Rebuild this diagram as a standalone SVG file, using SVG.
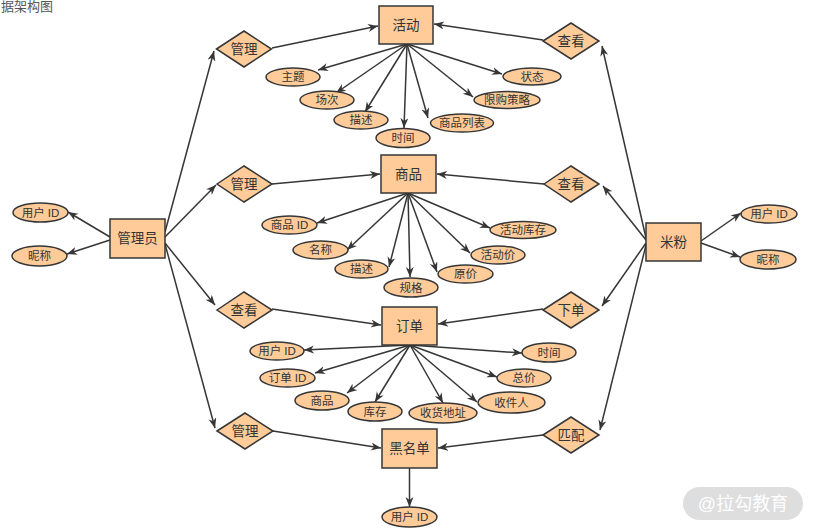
<svg xmlns="http://www.w3.org/2000/svg" width="820" height="532" viewBox="0 0 820 532">
<style>
  .n { fill: #ffcc99; stroke: #363636; stroke-width: 1.5; }
  .t { font-family: "Liberation Sans", "Noto Sans CJK SC", sans-serif; fill: #333; text-anchor: middle; dominant-baseline: central; }
  .e { font-size: 11.5px; }
  .b { font-size: 13.5px; }
  .c line { stroke: #363636; stroke-width: 1.5; marker-end: url(#arr); }
</style>
<defs>
  <marker id="arr" markerUnits="userSpaceOnUse" markerWidth="11" markerHeight="9" refX="10" refY="4" orient="auto">
    <path d="M0,0 L10,4 L0,8 L3,4 z" fill="#363636"/>
  </marker>
</defs>
<rect width="820" height="532" fill="#ffffff"/>
<text x="1" y="6" font-family="Liberation Sans, Noto Sans CJK SC, sans-serif" font-size="13" fill="#555" dominant-baseline="central">据架构图</text>

<g id="connectors" class="c">
  <!-- activity attributes -->
  <line x1="407" y1="44" x2="318" y2="70"/>
  <line x1="407" y1="44" x2="336" y2="93"/>
  <line x1="407" y1="44" x2="365" y2="112"/>
  <line x1="407" y1="44" x2="404" y2="128"/>
  <line x1="407" y1="44" x2="428" y2="118"/>
  <line x1="407" y1="44" x2="473" y2="97"/>
  <line x1="407" y1="44" x2="502" y2="74"/>
  <!-- product attributes -->
  <line x1="408" y1="193" x2="317" y2="223"/>
  <line x1="408" y1="193" x2="347" y2="250"/>
  <line x1="408" y1="193" x2="389" y2="267"/>
  <line x1="408" y1="193" x2="410" y2="277"/>
  <line x1="408" y1="193" x2="437" y2="272"/>
  <line x1="408" y1="193" x2="470" y2="253"/>
  <line x1="408" y1="193" x2="490" y2="228"/>
  <!-- order attributes -->
  <line x1="410" y1="345" x2="304" y2="350"/>
  <line x1="410" y1="345" x2="315" y2="373"/>
  <line x1="410" y1="345" x2="347" y2="393"/>
  <line x1="410" y1="345" x2="375" y2="402"/>
  <line x1="410" y1="345" x2="443" y2="403"/>
  <line x1="410" y1="345" x2="477" y2="402"/>
  <line x1="410" y1="345" x2="497" y2="377"/>
  <line x1="410" y1="345" x2="522" y2="353"/>
  <!-- blacklist attribute -->
  <line x1="409.5" y1="468" x2="409.5" y2="507"/>
  <!-- relations to entities -->
  <line x1="272" y1="48" x2="378" y2="26"/>
  <line x1="543" y1="40" x2="434" y2="24"/>
  <line x1="272" y1="184" x2="380" y2="174"/>
  <line x1="544" y1="184" x2="437" y2="174"/>
  <line x1="272" y1="309" x2="381" y2="325"/>
  <line x1="543" y1="309" x2="438" y2="324"/>
  <line x1="273" y1="431" x2="381" y2="448"/>
  <line x1="543" y1="435" x2="438" y2="448"/>
  <!-- admin -->
  <line x1="110" y1="237" x2="68" y2="212"/>
  <line x1="110" y1="240" x2="67" y2="254"/>
  <line x1="165" y1="232" x2="214" y2="51"/>
  <line x1="165" y1="237" x2="216" y2="185"/>
  <line x1="165" y1="243" x2="215" y2="305"/>
  <line x1="165" y1="244" x2="215" y2="428"/>
  <!-- fan -->
  <line x1="701" y1="241" x2="741" y2="213"/>
  <line x1="701" y1="243" x2="740" y2="257"/>
  <line x1="646" y1="238" x2="602" y2="46"/>
  <line x1="646" y1="240" x2="603" y2="186"/>
  <line x1="646" y1="243" x2="602" y2="306"/>
  <line x1="646" y1="245" x2="600" y2="430"/>
</g>

<!-- entities -->
<g id="activity"><rect class="n" x="379" y="6" width="54" height="38"/><text class="t b" x="406" y="25">活动</text></g>
<g id="product"><rect class="n" x="381" y="155" width="55" height="38"/><text class="t b" x="408.5" y="174">商品</text></g>
<g id="order"><rect class="n" x="382" y="307" width="55" height="38"/><text class="t b" x="409.5" y="326">订单</text></g>
<g id="blacklist"><rect class="n" x="382" y="429" width="55" height="39"/><text class="t b" x="409.5" y="448.5">黑名单</text></g>
<g id="admin"><rect class="n" x="110" y="219" width="55" height="39"/><text class="t b" x="137.5" y="238.5">管理员</text></g>
<g id="fan"><rect class="n" x="646" y="223" width="55" height="38"/><text class="t b" x="673.5" y="242">米粉</text></g>

<!-- relations -->
<g id="rel-act-manage"><polygon class="n" points="216.5,49 244,31 271.5,49 244,67"/><text class="t b" x="244" y="49">管理</text></g>
<g id="rel-act-view"><polygon class="n" points="543,41 571,23 599,41 571,59"/><text class="t b" x="571" y="41">查看</text></g>
<g id="rel-prod-manage"><polygon class="n" points="217,184 244,166 272,184 244,202"/><text class="t b" x="244" y="184">管理</text></g>
<g id="rel-prod-view"><polygon class="n" points="544,184 571,166 599,184 571,202"/><text class="t b" x="571" y="184">查看</text></g>
<g id="rel-order-view"><polygon class="n" points="217,310 244,292 272,310 244,328"/><text class="t b" x="244" y="310">查看</text></g>
<g id="rel-order-place"><polygon class="n" points="543,310 571,292 599,310 571,328"/><text class="t b" x="571" y="310">下单</text></g>
<g id="rel-bl-manage"><polygon class="n" points="217,431 245,413 273,431 245,449"/><text class="t b" x="245" y="431">管理</text></g>
<g id="rel-bl-match"><polygon class="n" points="543,435 571,417 599,435 571,453"/><text class="t b" x="571" y="435">匹配</text></g>

<!-- activity attributes -->
<g id="a-theme"><ellipse class="n" cx="293" cy="77" rx="27" ry="9"/><text class="t e" x="293" y="77">主题</text></g>
<g id="a-session"><ellipse class="n" cx="327" cy="100" rx="27" ry="9"/><text class="t e" x="327" y="100">场次</text></g>
<g id="a-desc"><ellipse class="n" cx="361" cy="120" rx="27" ry="9"/><text class="t e" x="361" y="120">描述</text></g>
<g id="a-time"><ellipse class="n" cx="403" cy="138" rx="27" ry="9.5"/><text class="t e" x="403" y="138">时间</text></g>
<g id="a-goods"><ellipse class="n" cx="462" cy="123" rx="31.5" ry="9"/><text class="t e" x="462" y="123">商品列表</text></g>
<g id="a-limit"><ellipse class="n" cx="507" cy="100" rx="33" ry="8.5"/><text class="t e" x="507" y="100">限购策略</text></g>
<g id="a-state"><ellipse class="n" cx="532" cy="76.5" rx="29" ry="8.5"/><text class="t e" x="532" y="76.5">状态</text></g>

<!-- product attributes -->
<g id="p-id"><ellipse class="n" cx="289.5" cy="225" rx="27.5" ry="9"/><text class="t e" x="289.5" y="225">商品 ID</text></g>
<g id="p-name"><ellipse class="n" cx="320.5" cy="250" rx="27.5" ry="9"/><text class="t e" x="320.5" y="250">名称</text></g>
<g id="p-desc"><ellipse class="n" cx="361.5" cy="269" rx="26.5" ry="9"/><text class="t e" x="361.5" y="269">描述</text></g>
<g id="p-spec"><ellipse class="n" cx="411" cy="287.5" rx="27" ry="9.5"/><text class="t e" x="411" y="287.5">规格</text></g>
<g id="p-price"><ellipse class="n" cx="465.5" cy="274" rx="27.5" ry="9"/><text class="t e" x="465.5" y="274">原价</text></g>
<g id="p-aprice"><ellipse class="n" cx="498" cy="255" rx="27" ry="9"/><text class="t e" x="498" y="255">活动价</text></g>
<g id="p-astock"><ellipse class="n" cx="523" cy="230" rx="33" ry="8.5"/><text class="t e" x="523" y="230">活动库存</text></g>

<!-- order attributes -->
<g id="o-uid"><ellipse class="n" cx="277" cy="351" rx="27" ry="9"/><text class="t e" x="277" y="351">用户 ID</text></g>
<g id="o-oid"><ellipse class="n" cx="287.5" cy="378" rx="27.5" ry="9"/><text class="t e" x="287.5" y="378">订单 ID</text></g>
<g id="o-goods"><ellipse class="n" cx="322" cy="400.5" rx="27" ry="9.5"/><text class="t e" x="322" y="400.5">商品</text></g>
<g id="o-stock"><ellipse class="n" cx="375" cy="411.5" rx="27" ry="9.5"/><text class="t e" x="375" y="411.5">库存</text></g>
<g id="o-addr"><ellipse class="n" cx="443" cy="413" rx="34" ry="10"/><text class="t e" x="443" y="413">收货地址</text></g>
<g id="o-recv"><ellipse class="n" cx="511.5" cy="402.5" rx="33.5" ry="10.5"/><text class="t e" x="511.5" y="402.5">收件人</text></g>
<g id="o-total"><ellipse class="n" cx="524" cy="378" rx="27" ry="9"/><text class="t e" x="524" y="378">总价</text></g>
<g id="o-time"><ellipse class="n" cx="549" cy="352.5" rx="27" ry="9.5"/><text class="t e" x="549" y="352.5">时间</text></g>

<!-- blacklist attribute -->
<g id="b-uid"><ellipse class="n" cx="409.5" cy="517" rx="27.5" ry="10"/><text class="t e" x="409.5" y="517">用户 ID</text></g>

<!-- admin attributes -->
<g id="ad-uid"><ellipse class="n" cx="40.5" cy="212.5" rx="27.5" ry="9.5"/><text class="t e" x="40.5" y="212.5">用户 ID</text></g>
<g id="ad-nick"><ellipse class="n" cx="39.5" cy="256" rx="27.5" ry="10"/><text class="t e" x="39.5" y="256">昵称</text></g>

<!-- fan attributes -->
<g id="f-uid"><ellipse class="n" cx="769" cy="214" rx="28" ry="9"/><text class="t e" x="769" y="214">用户 ID</text></g>
<g id="f-nick"><ellipse class="n" cx="768" cy="259.5" rx="28" ry="9.5"/><text class="t e" x="768" y="259.5">昵称</text></g>

<!-- watermark -->
<g id="watermark">
  <rect x="683" y="487" width="120" height="33" rx="16.5" fill="#dedede"/>
  <text x="743" y="504" font-family="Liberation Sans, Noto Sans CJK SC, sans-serif" font-size="18" fill="#ffffff" text-anchor="middle" dominant-baseline="central">@拉勾教育</text>
</g>
</svg>
